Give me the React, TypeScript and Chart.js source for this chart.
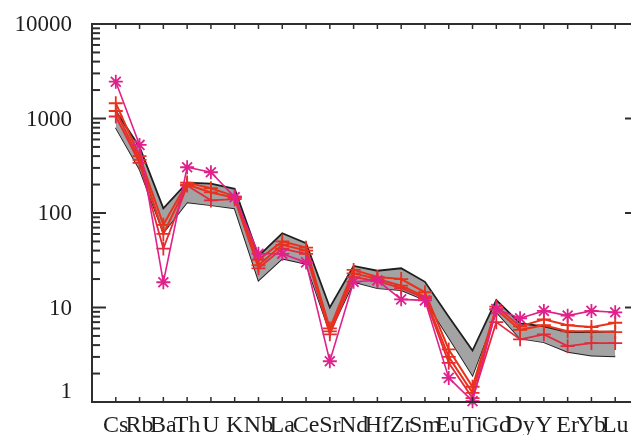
import React, { useEffect, useRef } from "react";
import { Chart, registerables } from "chart.js";

Chart.register(...registerables);

const categories = ["Cs", "Rb", "Ba", "Th", "U", "K", "Nb", "La", "Ce", "Sr", "Nd", "Hf", "Zr", "Sm", "Eu", "Ti", "Gd", "Dy", "Y", "Er", "Yb", "Lu"];
const bandUpper = [1200, 500, 112, 210, 205, 180, 35, 61, 48, 10, 27.5, 24.5, 26, 18.7, 8, 3.5, 12, 6.8, 6.3, 5.5, 5.5, 5.6];
const bandLower = [800, 290, 62, 130, 121, 112, 19.4, 33, 29, 5.5, 18.7, 16, 15.3, 12, 4.8, 1.92, 9, 4.7, 4.3, 3.4, 3.1, 3.05];
const sampleA = [1450, 400, 75, 210, 183, 150, 32, 50, 43, 6.0, 25, 21, 20, 14.5, 3.6, 1.45, 10.2, 6.3, 7.5, 6.5, 6.2, 6.9];
const sampleB = [1200, 365, 60, 200, 165, 145, 28, 46, 40, 5.6, 23, 20, 17, 13, 3.0, 1.25, 9.5, 5.8, 6.5, 5.6, 5.6, 5.5];
const sampleC = [1050, 340, 42, 195, 136, 140, 26, 42, 37, 5.2, 21, 19, 16, 12.5, 2.6, 1.1, 7.0, 4.6, 5.2, 3.9, 4.2, 4.2];
const sampleStar = [2450, 525, 18.5, 305, 270, 147, 37, 37, 30, 2.7, 18.7, 19.4, 12.2, 11.9, 1.8, 1.02, 9.6, 7.7, 9.2, 8.2, 9.2, 8.9];
const yTickLabels = [1, 10, 100, 1000, 10000];

const FONT = '"Liberation Serif", "Times New Roman", serif';

const toPts = (vals: number[]) => vals.map((v, i) => ({ x: i, y: v }));

const framePlugin = {
  id: "frame",
  afterDraw(chart: any) {
    const { ctx, chartArea: a, scales } = chart;
    const xs = scales.x;
    const ys = scales.y;
    const line = (x1: number, y1: number, x2: number, y2: number) => {
      ctx.beginPath();
      ctx.moveTo(x1, y1);
      ctx.lineTo(x2, y2);
      ctx.stroke();
    };
    ctx.save();
    ctx.strokeStyle = "#2e2e2e";
    ctx.lineWidth = 2;
    ctx.beginPath();
    ctx.moveTo(a.left, a.top);
    ctx.lineTo(a.right, a.top);
    ctx.lineTo(a.right, a.bottom);
    ctx.lineTo(a.left, a.bottom);
    ctx.closePath();
    ctx.stroke();

    ctx.lineWidth = 1.5;
    categories.forEach((_c, i) => {
      const px = xs.getPixelForValue(i);
      line(px, a.top, px, a.top + 5);
      line(px, a.bottom, px, a.bottom - 5);
    });

    ctx.lineWidth = 2;
    for (let d = 0; d < 4; d++) {
      for (let m = 1; m <= 9; m++) {
        const v = m * Math.pow(10, d);
        const py = ys.getPixelForValue(v);
        const len = m === 1 ? 14 : 8;
        line(a.left, py, a.left + len, py);
        line(a.right, py, a.right - len, py);
      }
    }
    const pTop = ys.getPixelForValue(10000);
    line(a.left, pTop, a.left + 14, pTop);
    line(a.right, pTop, a.right - 14, pTop);

    ctx.fillStyle = "#1e1e1e";
    ctx.font = `23px ${FONT}`;
    ctx.textAlign = "right";
    ctx.textBaseline = "alphabetic";
    yTickLabels.forEach((v) => {
      const py = ys.getPixelForValue(v);
      const off = v === 1 ? -4 : 7;
      ctx.fillText(String(v), a.left - 20, py + off);
    });

    ctx.font = `24px ${FONT}`;
    ctx.textAlign = "center";
    categories.forEach((c, i) => {
      const px = xs.getPixelForValue(i);
      ctx.fillText(c, px, a.bottom + 30);
    });
    ctx.restore();
  },
};

export default function App() {
  const ref = useRef<HTMLCanvasElement | null>(null);
  useEffect(() => {
    if (!ref.current) return;
    const red = "#e8321e";
    const red2 = "#e42a3a";
    const pink = "#e0218a";
    const chart = new Chart(ref.current, {
      type: "line",
      data: {
        datasets: [
          {
            data: toPts(sampleStar),
            borderColor: pink,
            backgroundColor: pink,
            borderWidth: 1.6,
            pointStyle: "star",
            pointRadius: 7,
            pointBorderWidth: 1.8,
            order: 0,
            clip: 12,
          } as any,
          {
            data: toPts(sampleA),
            borderColor: red,
            backgroundColor: red,
            borderWidth: 2,
            pointStyle: "cross",
            pointRadius: 7,
            pointBorderWidth: 1.8,
            order: 1,
            clip: 12,
          },
          {
            data: toPts(sampleB),
            borderColor: red,
            backgroundColor: red,
            borderWidth: 2,
            pointStyle: "cross",
            pointRadius: 7,
            pointBorderWidth: 1.8,
            order: 2,
            clip: 12,
          },
          {
            data: toPts(sampleC),
            borderColor: red2,
            backgroundColor: red2,
            borderWidth: 1.8,
            pointStyle: "cross",
            pointRadius: 7,
            pointBorderWidth: 1.8,
            order: 3,
            clip: 12,
          },
          {
            data: toPts(bandUpper),
            borderColor: "#1f1f1f",
            backgroundColor: "#a3a3a3",
            borderWidth: 1.8,
            pointRadius: 0,
            fill: "+1",
            order: 10,
            clip: 12,
          },
          {
            data: toPts(bandLower),
            borderColor: "#1f1f1f",
            backgroundColor: "#a3a3a3",
            borderWidth: 1.8,
            pointRadius: 0,
            fill: false,
            order: 11,
            clip: 12,
          },
        ],
      },
      options: {
        responsive: false,
        animation: false,
        events: [],
        layout: { padding: { left: 92, top: 24, right: 21, bottom: 33 } },
        plugins: { legend: { display: false }, tooltip: { enabled: false } },
        scales: {
          x: { type: "linear", min: -1, max: 22, display: false },
          y: { type: "logarithmic", min: 1, max: 10000, display: false },
        },
      },
      plugins: [framePlugin],
    });
    return () => chart.destroy();
  }, []);
  return (
    <div style={{ position: "fixed", left: 0, top: 0, width: 631, height: 435, overflow: "hidden", background: "#fff" }}>
      <canvas ref={ref} width={660} height={435} style={{ width: 660, height: 435, display: "block" }} />
    </div>
  );
}
